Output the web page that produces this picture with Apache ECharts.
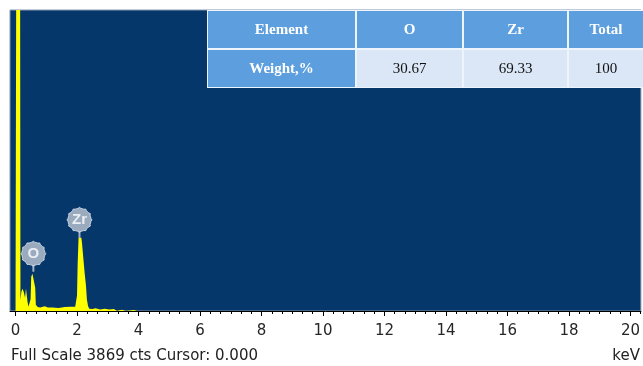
<!DOCTYPE html>
<html>
<head>
<meta charset="utf-8">
<script src="https://cdn.jsdelivr.net/npm/echarts@6/dist/echarts.min.js"></script>
<style>
  html, body { margin: 0; padding: 0; background: #ffffff; }
  #chart { width: 643px; height: 366px; }
</style>
</head>
<body>
<div id="chart"></div>
<script>
// EDS spectrum: energy (keV) against counts
const energyKeV = [0.00, 0.02, 0.04, 0.15, 0.16, 0.19, 0.23, 0.27, 0.31, 0.34, 0.36, 0.39, 0.42, 0.47,
  0.49, 0.51, 0.55, 0.58, 0.61, 0.64, 0.66, 0.72, 0.80, 0.95, 1.05, 1.20, 1.40, 1.60, 1.80, 1.94,
  1.97, 2.00, 2.02, 2.05, 2.14, 2.16, 2.20, 2.25, 2.29, 2.32, 2.36, 2.40, 2.50, 2.60, 2.75, 2.90,
  3.05, 3.20, 3.30, 3.45, 3.60, 3.85, 3.95, 4.05, 20.40];
const counts = [0, 3869, 3869, 3869, 140, 250, 285, 240, 170, 290, 280, 120, 55, 60,
  150, 440, 480, 505, 500, 300, 80, 50, 45, 60, 45, 45, 40, 50, 55, 55,
  60, 200, 600, 940, 940, 880, 700, 480, 330, 150, 60, 30, 25, 35, 20, 30,
  20, 25, 0, 15, 0, 12, 0, 0, 0];

const fullScaleCts = 3869;
const cursorText = '0.000';
const tickLabels = [0, 2, 4, 6, 8, 10, 12, 14, 16, 18, 20];

// identified peaks
const peakElements = ['O', 'Zr'];
const peakKeV = [0.58, 2.08];
const peakCounts = [505, 940];

// quantification table
const tableHeader = ['Element', 'O', 'Zr', 'Total'];
const tableRowName = 'Weight,%';
const weightPercent = [30.67, 69.33];
const weightTotal = 100;

// minor ticks every 1/3 keV
const minorTicks = [];
for (let i = 0; i <= 61; i++) minorTicks.push(i / 3);

const spectrum = energyKeV.map((e, i) => [e, counts[i]]);
const peaks = peakKeV.map((e, i) => ({ value: [e, peakCounts[i]], name: peakElements[i] }));

// notched round badge used for peak labels
function badgePath(teeth) {
  const pts = [];
  const n = teeth * 4;
  for (let i = 0; i < n; i++) {
    const a = (i / n) * Math.PI * 2;
    const r = (i % 4 === 0) ? 13 : 12;
    pts.push((i ? 'L' : 'M') + (r * Math.cos(a)).toFixed(2) + ' ' + (r * Math.sin(a)).toFixed(2));
  }
  return 'path://' + pts.join(' ') + ' Z';
}

// table drawn as graphic elements
const colEdges = [208, 356, 463, 568, 700];
const rowEdges = [[11, 48], [50, 87]];
const headBlue = '#5c9ede';
const lightCell = '#dbe7f7';
const tableEls = [{
  type: 'rect', shape: { x: 207, y: 10, width: 460, height: 78 },
  style: { fill: '#eef4fb' }, z: 10
}];
const rowValues = [
  tableHeader,
  [tableRowName, weightPercent[0].toFixed(2), weightPercent[1].toFixed(2), String(weightTotal)]
];
rowValues.forEach((row, r) => {
  row.forEach((txt, c) => {
    const x0 = colEdges[c] + (c === 0 ? 0 : 1);
    const x1 = colEdges[c + 1] - 1;
    const [y0, y1] = rowEdges[r];
    const isHead = r === 0 || c === 0;
    tableEls.push({
      type: 'rect', shape: { x: x0, y: y0, width: x1 - x0, height: y1 - y0 },
      style: { fill: isHead ? headBlue : lightCell }, z: 11
    });
    tableEls.push({
      type: 'text', x: c === 3 ? 606 : (x0 + x1) / 2, y: (y0 + y1) / 2 + 0.5,
      style: {
        text: txt, fill: isHead ? '#ffffff' : '#111111',
        font: (isHead ? 'bold ' : '') + '15px "Liberation Serif", "Times New Roman", serif',
        align: 'center', verticalAlign: 'middle'
      }, z: 12
    });
  });
});

const sansFont = '"DejaVu Sans", Tahoma, sans-serif';

const chart = echarts.init(document.getElementById('chart'), null, { renderer: 'canvas' });
chart.setOption({
  animation: false,
  backgroundColor: '#ffffff',
  grid: {
    left: 10, right: 0, top: 10, bottom: 55,
    show: true, backgroundColor: '#06376a', borderColor: '#8797ad', borderWidth: 1
  },
  xAxis: [{
    type: 'value', min: -0.18, max: 20.34,
    axisLine: { show: true, onZero: false, lineStyle: { color: '#000000', width: 1 } },
    axisTick: { show: true, customValues: tickLabels, length: 5, lineStyle: { color: '#000000' } },
    axisLabel: {
      show: true, customValues: tickLabels, margin: 13,
      color: '#262626', fontSize: 15, fontFamily: sansFont
    },
    splitLine: { show: false }
  }, {
    type: 'value', min: -0.18, max: 20.34, position: 'bottom',
    axisLine: { show: false },
    axisTick: { show: true, customValues: minorTicks, length: 3, lineStyle: { color: '#000000' } },
    axisLabel: { show: false },
    splitLine: { show: false }
  }],
  yAxis: {
    type: 'value', min: 0, max: fullScaleCts, show: false
  },
  series: [{
    type: 'line', data: spectrum, showSymbol: false, clip: true,
    lineStyle: { opacity: 0 },
    areaStyle: { color: '#ffff00', opacity: 1 },
    z: 3
  }, {
    type: 'scatter', data: peaks, symbol: 'rect', symbolSize: [2, 7],
    symbolOffset: [0, -3.5], itemStyle: { color: '#cdd5e0' }, z: 4, silent: true
  }, {
    type: 'scatter', data: peaks, symbol: badgePath(12), symbolSize: 25,
    symbolOffset: [0, -18],
    itemStyle: { color: '#bfc8d5', borderColor: '#dde3ec', borderWidth: 1 },
    label: {
      show: true, position: 'inside', formatter: p => p.name,
      color: '#ffffff', fontSize: 15, fontWeight: 'bold',
      fontFamily: '"Liberation Sans", Arial, sans-serif'
    },
    z: 5, silent: true
  }],
  graphic: tableEls.concat([{
    type: 'text', left: 11, top: 349,
    style: {
      text: 'Full Scale ' + fullScaleCts + ' cts Cursor: ' + cursorText,
      fill: '#222222', font: '15px ' + sansFont
    }
  }, {
    type: 'text', right: 3, top: 349,
    style: { text: 'keV', fill: '#222222', font: '15px ' + sansFont }
  }])
});
</script>
</body>
</html>
